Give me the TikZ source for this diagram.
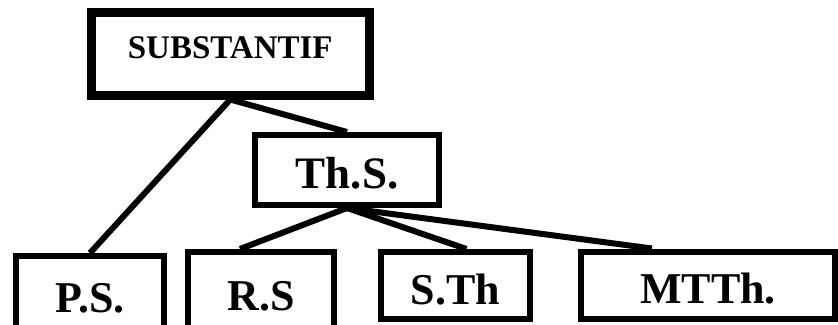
\documentclass[tikz,border=0pt]{standalone}
\usepackage{fontspec}
\setmainfont{Liberation Serif}
\usepackage{tikz}
\usetikzlibrary{positioning}
\tikzset{x=1pt, y=-1pt, every node/.style={draw, inner sep=0pt, line width=6pt, text height=38pt, font=\fontsize{44}{44}\selectfont\bfseries}}

\begin{document}
\begin{tikzpicture}[link/.style={line width=6pt}]
	\useasboundingbox (0,0) rectangle (838,324);
	\node[line width=9pt, minimum width=277.5pt, minimum height=82.5pt, text height=22pt, text depth=13pt, font=\fontsize{33}{33}\selectfont\bfseries] (Subst) at (230.25,53.75) {SUBSTANTIF};
	\node[minimum width=184pt, minimum height=70pt, font=\fontsize{45}{45}\selectfont\bfseries] (ThS) at (347,170) {Th.S.};
	\node[minimum width=147.5pt, minimum height=76pt] (PS) at (90,294) {P.S.};
	\node[minimum width=146pt, minimum height=80pt] (RS) at (261,292) {R.S};
	\node[minimum width=149pt, minimum height=67pt] (STh) at (455.5,285.5) {S.Th};
	\node[minimum width=254pt, minimum height=67.5pt] (MTTh) at (708,285.25) {MTTh.};
	\draw[link]
		(Subst.south) edge (PS.north)
		(Subst.south) edge (ThS.north)
		(ThS.south) edge ([xshift=-21pt]RS.north)
		(ThS.south) edge ([xshift=11pt]STh.north)
		(ThS.south) edge ([xshift=-56pt]MTTh.north);
\end{tikzpicture}
\end{document}
